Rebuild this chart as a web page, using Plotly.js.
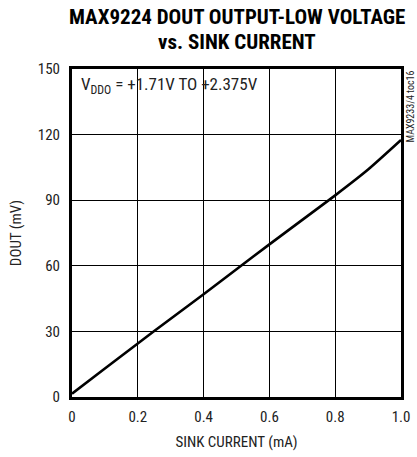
<!DOCTYPE html>
<html>
<head>
<meta charset="utf-8">
<script src="https://cdn.plot.ly/plotly-3.0.1.min.js"></script>
<style>html,body{margin:0;padding:0;background:#fff;}#chart{width:417px;height:457px;}</style>
</head>
<body>
<div id="chart"></div>
<script>
const sinkCurrent = [0, 0.1, 0.2, 0.3, 0.4, 0.5, 0.6, 0.7, 0.8, 0.9, 1.0];
const doutMv = [1.5, 13, 24.5, 35.8, 47, 58.4, 69.8, 81, 92.2, 104, 117.5];
const xTickVals = [0, 0.2, 0.4, 0.6, 0.8, 1.0];
const xTickText = ["0", "0.2", "0.4", "0.6", "0.8", "1.0"];
const yTickVals = [0, 30, 60, 90, 120, 150];
const titleLines = ["MAX9224 DOUT OUTPUT-LOW VOLTAGE", "vs. SINK CURRENT"];

const narrow = "'Liberation Sans Narrow', 'Arial Narrow', 'Roboto Condensed', sans-serif";

const trace = {
  x: sinkCurrent, y: doutMv, type: "scatter", mode: "lines",
  line: {color: "#000", width: 2.6, shape: "spline", smoothing: 0.6},
  hoverinfo: "skip", showlegend: false
};

const layout = {
  width: 417, height: 457,
  margin: {l: 72, r: 16, t: 69, b: 60},
  paper_bgcolor: "#fff", plot_bgcolor: "#fff",
  font: {family: narrow, color: "#222", size: 15},
  xaxis: {
    range: [0, 1], tickvals: xTickVals, ticktext: xTickText,
    showgrid: true, gridcolor: "#000", gridwidth: 1,
    showline: true, linecolor: "#000", linewidth: 3, mirror: true,
    zeroline: false, ticks: "outside", ticklen: 4, tickcolor: "rgba(0,0,0,0)",
    tickfont: {family: narrow, size: 15, color: "#222"},
    title: {text: "SINK CURRENT (mA)", font: {family: narrow, size: 15, color: "#222"}, standoff: 12}
  },
  yaxis: {
    range: [0, 150], tickvals: yTickVals,
    showgrid: true, gridcolor: "#000", gridwidth: 1,
    showline: true, linecolor: "#000", linewidth: 3, mirror: true,
    zeroline: false, ticks: "outside", ticklen: 6, tickcolor: "rgba(0,0,0,0)",
    tickfont: {family: narrow, size: 15, color: "#222"},
    title: {text: "DOUT (mV)", font: {family: narrow, size: 15, color: "#222"}, standoff: 13}
  },
  annotations: [
    {
      text: "<b>" + titleLines[0] + "</b>",
      xref: "paper", yref: "paper", x: 0.5, y: 1, xanchor: "center", yanchor: "middle",
      yshift: 52, showarrow: false, font: {family: narrow, size: 21, color: "#000"}
    },
    {
      text: "<b>" + titleLines[1] + "</b>",
      xref: "paper", yref: "paper", x: 0.5, y: 1, xanchor: "center", yanchor: "middle",
      yshift: 27, showarrow: false, font: {family: narrow, size: 21, color: "#000"}
    },
    {
      text: "V<sub>DDO</sub> = +1.71V TO +2.375V",
      xref: "paper", yref: "paper", x: 0.02, y: 0.99, xanchor: "left", yanchor: "top",
      showarrow: false, font: {family: narrow, size: 17, color: "#222"}
    },
    {
      text: "MAX9233/4 toc16",
      xref: "paper", yref: "paper", x: 1.0, y: 1.0, xanchor: "left", yanchor: "top",
      xshift: 1, textangle: -90, showarrow: false,
      font: {family: narrow, size: 10, color: "#222"}
    }
  ]
};

Plotly.newPlot("chart", [trace], layout, {displayModeBar: false, staticPlot: true});
</script>
</body>
</html>
